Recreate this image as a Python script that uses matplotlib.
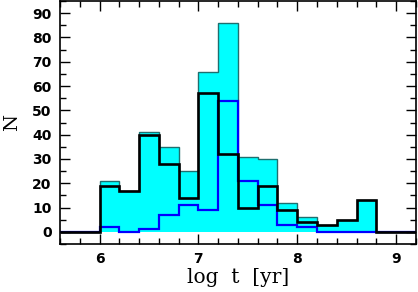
import numpy as np
import matplotlib.pyplot as plt
from matplotlib.ticker import MultipleLocator

# bin edges in log t, 0.2 dex wide
edges = np.round(np.arange(5.6, 9.2001, 0.2), 2)

# total sample (filled cyan)
n_total = [0, 0, 21, 17, 41, 35, 25, 66, 86, 31, 30, 12, 6, 3, 5, 13, 0, 0]
# black subsample
n_black = [0, 0, 19, 17, 40, 28, 14, 57, 32, 10, 19, 9, 4, 3, 5, 13, 0, 0]
# blue subsample
n_blue = [0, 0, 2, 0, 1, 7, 11, 9, 54, 21, 11, 3, 2, 0, 0, 0, 0, 0]

fig = plt.figure(figsize=(4.18, 2.92), dpi=100)
ax = fig.add_axes([0.1435, 0.1644, 0.8515, 0.832])

ax.stairs(n_total, edges, fill=True, facecolor='#00ffff', edgecolor='none')
ax.stairs(n_total, edges, color='#1f6f6f', linewidth=1.0)
ax.stairs(n_blue, edges, color='#0000ff', linewidth=1.6)
ax.stairs(n_black, edges, color='black', linewidth=1.9)

ax.set_xlim(5.6, 9.2)
ax.set_ylim(-5, 95)

ax.xaxis.set_major_locator(MultipleLocator(1))
ax.xaxis.set_minor_locator(MultipleLocator(0.2))
ax.yaxis.set_major_locator(MultipleLocator(10))
ax.yaxis.set_minor_locator(MultipleLocator(5))
ax.tick_params(which='both', direction='in', top=True, right=True, width=1.0)
ax.tick_params(which='major', length=7, labelsize=10, pad=6)
ax.tick_params(which='minor', length=4)
for lab in ax.get_xticklabels() + ax.get_yticklabels():
    lab.set_fontweight('bold')
for s in ax.spines.values():
    s.set_linewidth(1.2)

ax.set_xlabel('log  t  [yr]', family='DejaVu Serif', fontsize=14.5, labelpad=1)
ax.set_ylabel('N', family='DejaVu Serif', fontsize=14, labelpad=8)

fig.savefig('out.png', dpi=100)
